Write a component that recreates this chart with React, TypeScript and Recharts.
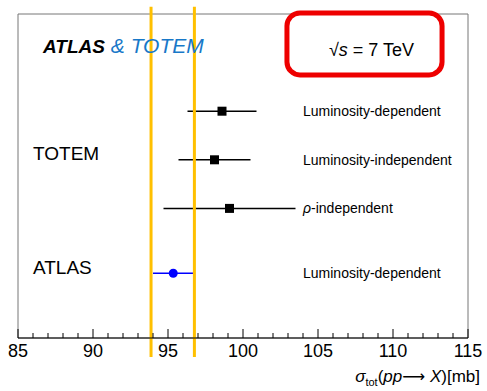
import React from 'react';
import {
  ComposedChart, Scatter, XAxis, YAxis, ErrorBar, ReferenceLine, ReferenceArea, ReferenceDot,
} from 'recharts';

const rowLabels = ['Luminosity-dependent', 'Luminosity-independent', 'ρ-independent', 'Luminosity-dependent'];
const rowPositions = [7, 5.5, 4, 2];
const totemValues = [98.6, 98.1, 99.1];
const totemErrors = [2.3, 2.4, 4.4];
const atlasValues = [95.35];
const atlasErrors = [1.35];
const experiments = ['TOTEM', 'ATLAS'];
const experimentPositions = [5.7, 2.2];
const bandEdges = [93.87, 96.76];
const majorTicks = [85, 90, 95, 100, 105, 110, 115];
const allTicks = Array.from({ length: 31 }, (_, i) => 85 + i);

const FONT = 'Liberation Sans, Arial, Helvetica, sans-serif';

const totemData = totemValues.map((v, i) => ({ x: v, y: rowPositions[i], err: totemErrors[i] }));
const atlasData = atlasValues.map((v, i) => ({ x: v, y: rowPositions[3 + i], err: atlasErrors[i] }));
const labelData = rowLabels.map((t, i) => ({ x: 104, y: rowPositions[i], text: t }));
const expData = experiments.map((t, i) => ({ x: 86, y: experimentPositions[i], text: t }));

const Tick = (props: any) => {
  const { x, y, payload } = props;
  const v = payload.value;
  const major = majorTicks.includes(v);
  return (
    <g>
      <line x1={x} x2={x} y1={y} y2={y - (major ? 9 : 5)} stroke="#000" strokeWidth={1} />
      {major && (
        <text x={x} y={y + 18.5} textAnchor="middle" fontSize={18} fontFamily={FONT} fill="#000">
          {v}
        </text>
      )}
    </g>
  );
};

const Square = (props: any) => {
  const { cx, cy } = props;
  return <rect x={cx - 4.5} y={cy - 4.5} width={9} height={9} fill="#000" />;
};

const Dot = (props: any) => {
  const { cx, cy } = props;
  return <circle cx={cx} cy={cy} r={4.5} fill="#0000ff" />;
};

const RowLabel = (props: any) => {
  const { cx, cy, payload } = props;
  const t: string = payload.text;
  if (t.startsWith('ρ')) {
    return (
      <text x={cx} y={cy + 5} fontSize={14} fontFamily={FONT} fill="#000">
        <tspan fontStyle="italic">ρ</tspan>
        <tspan>{t.slice(1)}</tspan>
      </text>
    );
  }
  return (
    <text x={cx} y={cy + 5} fontSize={14} fontFamily={FONT} fill="#000">
      {t}
    </text>
  );
};

const ExpLabel = (props: any) => {
  const { cx, cy, payload } = props;
  return (
    <text x={cx} y={cy + 7} fontSize={19} fontFamily={FONT} fill="#000">
      {payload.text}
    </text>
  );
};

const Header = (props: any) => {
  const { cx, cy } = props;
  return (
    <text x={cx} y={cy} fontFamily={FONT} fontStyle="italic">
      <tspan fontWeight="bold" fill="#000" fontSize={19}>ATLAS</tspan>
      <tspan fill="#1878c8" fontSize={21}> &amp; TOTEM</tspan>
    </text>
  );
};

const EnergyBox = (props: any) => {
  const { x, y, width, height } = props;
  return (
    <g>
      <rect x={x} y={y} width={width} height={height} rx={13} ry={13} fill="#fff" stroke="#ee0000" strokeWidth={5} />
      <text x={x + 42} y={y + 43} fontSize={18} fontFamily={FONT} fill="#000">
        <tspan>√</tspan>
        <tspan fontStyle="italic">s</tspan>
        <tspan> = 7 TeV</tspan>
      </text>
    </g>
  );
};

const AxisTitle = (props: any) => {
  const { viewBox } = props;
  const right = viewBox.x + viewBox.width + 12;
  const base = viewBox.y + 44;
  return (
    <text x={right} y={base} textAnchor="end" fontSize={17} fontFamily={FONT} fill="#000">
      <tspan fontStyle="italic">σ</tspan>
      <tspan fontSize={11} dy={4}>tot</tspan>
      <tspan dy={-4}>(</tspan>
      <tspan fontStyle="italic">pp</tspan>
      <tspan fontFamily="DejaVu Sans" fontSize={16}>⟶</tspan>
      <tspan> </tspan>
      <tspan fontStyle="italic">X</tspan>
      <tspan>)[mb]</tspan>
    </text>
  );
};

export default function App() {
  return (
    <div style={{ position: 'absolute', left: 0, top: 0, width: 487, height: 391, background: '#fff' }}>
      <ComposedChart width={487} height={391} margin={{ top: 14, right: 19, left: 18, bottom: 0 }}>
        <XAxis
          type="number"
          dataKey="x"
          domain={[85, 115]}
          ticks={allTicks}
          interval={0}
          tick={<Tick />}
          tickLine={false}
          tickSize={0}
          tickMargin={0}
          height={53}
          axisLine={{ stroke: '#000', strokeWidth: 1 }}
          allowDataOverflow
          label={<AxisTitle />}
        />
        <YAxis type="number" dataKey="y" domain={[0, 10]} hide />
        <ReferenceArea x1={85} x2={115} y1={0} y2={10} fill="none" stroke="#777" strokeWidth={1} ifOverflow="visible" />
        <ReferenceDot x={86.67} y={8.8} ifOverflow="visible" shape={<Header />} />
        <Scatter data={expData} shape={<ExpLabel />} isAnimationActive={false} />
        <Scatter data={labelData} shape={<RowLabel />} isAnimationActive={false} />
        <Scatter data={totemData} shape={<Square />} isAnimationActive={false}>
          <ErrorBar dataKey="err" direction="x" width={0} stroke="#000" strokeWidth={1.5} />
        </Scatter>
        <Scatter data={atlasData} shape={<Dot />} isAnimationActive={false}>
          <ErrorBar dataKey="err" direction="x" width={0} stroke="#0000ff" strokeWidth={1.5} />
        </Scatter>
        {bandEdges.map((b) => (
          <ReferenceLine
            key={b}
            segment={[{ x: b, y: -0.59 }, { x: b, y: 10.22 }]}
            stroke="#ffc000"
            strokeWidth={3}
            ifOverflow="visible"
          />
        ))}
        <ReferenceArea
          x1={102.93}
          x2={113.27}
          y1={8.12}
          y2={10.03}
          ifOverflow="visible"
          shape={<EnergyBox />}
        />
      </ComposedChart>
    </div>
  );
}
